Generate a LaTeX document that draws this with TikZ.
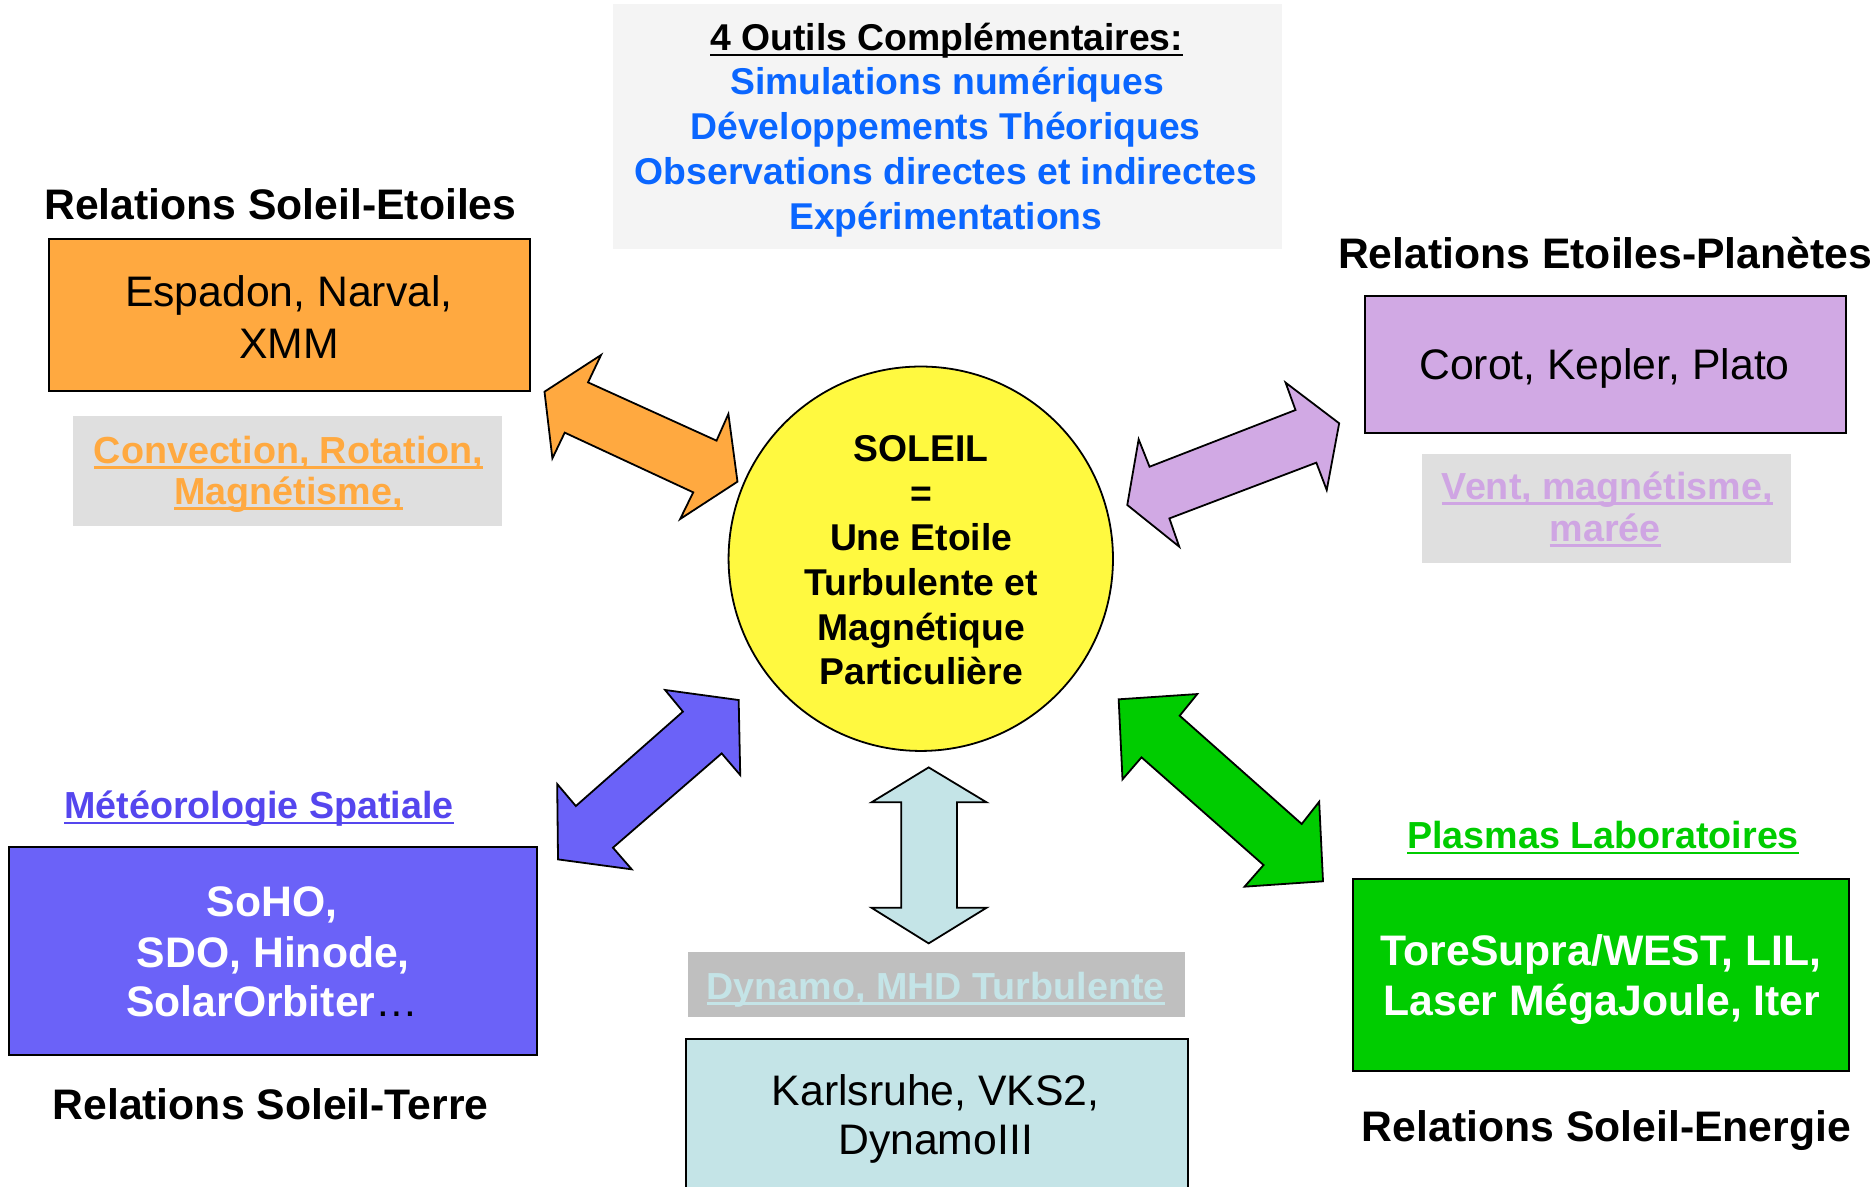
\documentclass[tikz,border=0pt]{standalone}
\usepackage{fontspec}
\setmainfont{Liberation Sans}
\definecolor{corange}{HTML}{FFA940}
\definecolor{cyellow}{HTML}{FFF940}
\definecolor{cpurple}{HTML}{D1A9E4}
\definecolor{cpurpletxt}{HTML}{CFA5E3}
\definecolor{cblue}{HTML}{6B62F8}
\definecolor{cbluetxt}{HTML}{5546EE}
\definecolor{cgreen}{HTML}{00CC00}
\definecolor{ccyan}{HTML}{C4E4E7}
\definecolor{cgrayA}{HTML}{DFDFDF}
\definecolor{cgrayB}{HTML}{BFBFBF}
\definecolor{cgrayC}{HTML}{F4F4F4}
\definecolor{ctool}{HTML}{0A66FF}
\newcommand\ulx[1]{\setbox0=\hbox{#1}\rlap{\rule[-4.6pt]{\wd0}{2.4pt}}\box0}
\tikzset{
  boxed/.style={draw=black, line width=1.8pt, inner sep=0pt},
  plain/.style={inner sep=0pt},
  bigb/.style={anchor=base, inner sep=0pt, font=\bfseries\fontsize{35.7}{41}\selectfont},
  bigr/.style={anchor=base, inner sep=0pt, font=\fontsize{35.7}{41}\selectfont},
  labb/.style={anchor=base, inner sep=0pt, font=\bfseries\fontsize{31.2}{36}\selectfont},
  labu/.style={anchor=base, inner sep=0pt, font=\bfseries\fontsize{31.5}{36}\selectfont},
  arrowshape/.style={draw=black, line width=1.5pt, line join=miter},
}
\begin{document}
\begin{tikzpicture}[x=1pt, y=-1pt]
\useasboundingbox (0,0) rectangle (1568,992);

% ---------- top box: tools ----------
\node[plain, fill=cgrayC, minimum width=558.6pt, minimum height=205.1pt] (tools) at (792,105.9) {};
\node[labb] (t0) at (791.3,42.6) {\ulx{4 Outils Complémentaires:}};
\node[labb, text=ctool] (t1) at (791.6,79) {Simulations numériques};
\node[labb, text=ctool] (t2) at (790.3,116.5) {Développements Théoriques};
\node[labb, text=ctool] (t3) at (790.7,154) {Observations directes et indirectes};
\node[labb, text=ctool] (t4) at (790.5,192) {Expérimentations};

% ---------- Soleil-Etoiles ----------
\node[bigb] (hSE) at (234.3,183.3) {Relations Soleil-Etoiles};
\node[boxed, fill=corange, minimum width=401.8pt, minimum height=127pt] (obox) at (241.8,263.3) {};
\node[bigr] (o1) at (241.5,256.3) {Espadon, Narval,};
\node[bigr] (o2) at (241.5,299.5) {XMM};
\node[plain, fill=cgrayA, minimum width=358.2pt, minimum height=91.7pt] (olab) at (240.3,393.5) {};
\node[labu, text=corange] (ol1) at (241.2,387.3) {\ulx{Convection, Rotation,}};
\node[labu, text=corange] (ol2) at (241.2,421.5) {\ulx{Magnétisme,}};

% ---------- Etoiles-Planetes ----------
\node[bigb] (hEP) at (1341.6,224.3) {Relations Etoiles-Planètes};
\node[boxed, fill=cpurple, minimum width=402.2pt, minimum height=114.2pt] (pbox) at (1341.9,304.5) {};
\node[bigr] (p1) at (1341.1,317.6) {Corot, Kepler, Plato};
\node[plain, fill=cgrayA, minimum width=308.3pt, minimum height=91.1pt] (plab) at (1342.5,425.3) {};
\node[labu, text=cpurpletxt] (pl1) at (1343.5,417.5) {\ulx{Vent, magnétisme,}};
\node[labu, text=cpurpletxt] (pl2) at (1341.7,452.4) {\ulx{marée}};

% ---------- Soleil-Terre ----------
\node[labu, text=cbluetxt] (bl1) at (216.4,684.5) {\ulx{Météorologie Spatiale}};
\node[boxed, fill=cblue, minimum width=441.5pt, minimum height=174.1pt] (bbox) at (228.2,794.8) {};
\node[bigb, text=white] (b1) at (227.5,766.2) {SoHO,};
\node[bigb, text=white] (b2) at (228.5,808.5) {SDO, Hinode,};
\node[bigb, text=white] (b3) at (227.5,849.8) {SolarOrbiter{\color{black}\mdseries …}};
\node[bigb] (hST) at (226.1,935.6) {Relations Soleil-Terre};

% ---------- Dynamo ----------
\node[plain, fill=cgrayB, minimum width=415.8pt, minimum height=53.8pt] (dlab) at (782.6,822.9) {};
\node[labu, text=ccyan] (dl1) at (782,835) {\ulx{Dynamo, MHD Turbulente}};
\node[boxed, fill=ccyan, minimum width=419.6pt, minimum height=141.6pt] (dbox) at (783.2,939.2) {};
\node[bigr] (d1) at (782,923.8) {Karlsruhe, VKS2,};
\node[bigr] (d2) at (782,965) {DynamoIII};

% ---------- Soleil-Energie ----------
\node[labu, text=cgreen] (gl1) at (1339.9,709.5) {\ulx{Plasmas Laboratoires}};
\node[boxed, fill=cgreen, minimum width=414.5pt, minimum height=160.2pt] (gbox) at (1338,814.8) {};
\node[bigb, text=white] (g1) at (1338.2,806.6) {ToreSupra/WEST, LIL,};
\node[bigb, text=white] (g2) at (1338.9,848.4) {Laser MégaJoule, Iter};
\node[bigb] (hSN) at (1342.7,954.2) {Relations Soleil-Energie};

% ---------- Sun ----------
\node[circle, draw=black, line width=1.5pt, fill=cyellow, minimum size=321.3pt, inner sep=0pt] (sun) at (769.6,467) {};
\node[labb] (s1) at (770,385.5) {SOLEIL};
\node[labb] (s2) at (770,423) {=};
\node[labb] (s3) at (770,460) {Une Etoile};
\node[labb] (s4) at (770,497.5) {Turbulente et};
\node[labb] (s5) at (770,535) {Magnétique};
\node[labb] (s6) at (770,572.5) {Particulière};

% ---------- double arrows ----------
\draw[arrowshape, fill=corange] (455.1,327.4) -- (502.4,296.7) -- (491.5,319.6) -- (598.9,368.3) -- (608.8,346.0) -- (616.4,402.6) -- (568.5,433.8) -- (579.4,411.5) -- (472.0,361.6) -- (461.7,383.1) -- cycle;
\draw[arrowshape, fill=cpurple] (942.2,422.1) -- (951.7,367.2) -- (960.8,390.1) -- (1082.8,342.7) -- (1074.5,319.8) -- (1119.3,353.8) -- (1108.9,409.6) -- (1100.2,386.7) -- (977.4,433.3) -- (985.6,456.9) -- cycle;
\draw[arrowshape, fill=cblue] (555.9,576.7) -- (617.4,585.1) -- (618.7,647.8) -- (603.2,629.7) -- (512.3,708.5) -- (528.0,726.6) -- (466.4,718.3) -- (465.7,655.3) -- (481.3,673.7) -- (570.8,594.8) -- cycle;
\draw[arrowshape, fill=ccyan] (776.2,641.4) -- (824.6,670.6) -- (799.8,670.6) -- (799.8,758.7) -- (824.6,758.7) -- (776.2,788.5) -- (728.4,758.7) -- (753.3,758.7) -- (753.3,670.6) -- (728.4,670.6) -- cycle;
\draw[arrowshape, fill=cgreen] (935.0,584.5) -- (1000.7,580.1) -- (986.0,598.2) -- (1088.0,688.7) -- (1102.6,670.1) -- (1105.8,736.6) -- (1040.2,741.1) -- (1056.1,723.0) -- (954.1,633.0) -- (938.2,651.4) -- cycle;
\end{tikzpicture}
\end{document}
